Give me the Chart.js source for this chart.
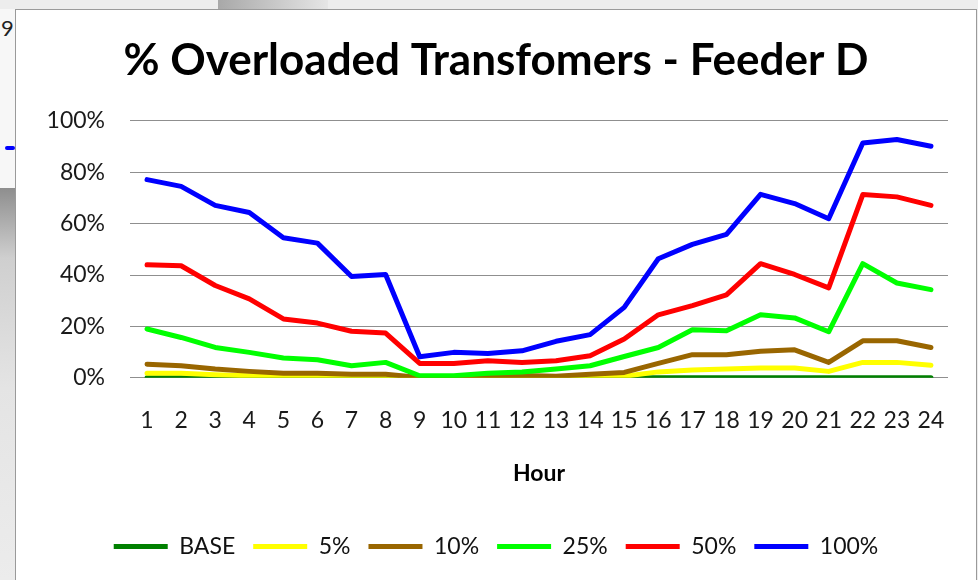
<!DOCTYPE html>
<html>
<head>
<meta charset="utf-8">
<script src="https://cdn.jsdelivr.net/npm/chart.js@4.4.1/dist/chart.umd.min.js"></script>
<style>
  html, body { margin: 0; padding: 0; }
  body { width: 978px; height: 580px; position: relative; overflow: hidden; background: #ededed; font-family: Lato, sans-serif; }
  #topdark { position: absolute; left: 218px; top: 0; width: 110px; height: 9px; background: linear-gradient(to right, #a8a8a8, #e6e6e6); }
  #leftwin { position: absolute; left: 0; top: 9px; width: 15px; height: 179px; background: #f7f7f7; }
  #leftgrad { position: absolute; left: 0; top: 188px; width: 15px; height: 392px; background: linear-gradient(to bottom, #8e8e8e 0px, #cfcfcf 70px, #e4e4e4 200px, #ececec 392px); }
  #nine { position: absolute; left: 1px; top: 14px; font: 22px Lato, sans-serif; color: #222; }
  #dash { position: absolute; left: 5px; top: 146px; width: 10px; height: 4px; background: #0000ff; border-radius: 2px; }
  #box { position: absolute; left: 15px; top: 9px; width: 960px; height: 600px; border: 1px solid #9a9a9a; background: #ffffff; }
  #wrap { position: absolute; left: 16px; top: 10px; width: 960px; height: 570px; }
</style>
</head>
<body>
<div id="topdark"></div>
<div id="leftwin"></div>
<div id="leftgrad"></div>
<div id="nine">9</div>
<div id="dash"></div>
<div id="box"></div>
<div id="wrap"><canvas id="c"></canvas></div>
<script>
const hours = ['1','2','3','4','5','6','7','8','9','10','11','12','13','14','15','16','17','18','19','20','21','22','23','24'];
const yTicks = [0, 20, 40, 60, 80, 100];
const seriesNames = ['BASE', '5%', '10%', '25%', '50%', '100%'];
const seriesColors = ['#008000', '#ffff00', '#996600', '#00ff00', '#ff0000', '#0000ff'];

const baseVals = [0,0,0,0,0,0,0,0,0,0,0,0,0,0,0,0,0,0,0,0,0,0,0,0];
const p5Vals   = [1.8,1.8,1.2,0.8,0.3,0.3,0.3,0.2,0,0,0,0.2,0.3,0.5,0.6,2.3,3.0,3.4,3.8,3.8,2.5,6.0,6.0,4.9];
const p10Vals  = [5.3,4.7,3.4,2.5,1.8,1.8,1.4,1.4,0.1,0,0.5,0.9,0.6,1.4,2.1,5.6,9.0,9.0,10.3,10.9,6.0,14.4,14.4,11.8];
const p25Vals  = [19.0,15.7,11.8,9.9,7.7,7.0,4.7,6.0,0.8,0.8,1.8,2.3,3.4,4.7,8.3,11.8,18.7,18.3,24.5,23.3,17.9,44.4,36.9,34.3];
const p50Vals  = [44.0,43.6,35.9,30.7,22.9,21.3,18.1,17.4,5.6,5.6,6.6,6.0,6.6,8.6,15.1,24.5,28.1,32.3,44.4,40.2,35.0,71.3,70.4,67.1];
const p100Vals = [77.1,74.5,67.1,64.3,54.5,52.4,39.4,40.2,8.2,9.9,9.5,10.5,14.2,16.8,27.4,46.3,51.9,55.8,71.4,67.8,61.9,91.4,92.7,90.1];

const allVals = [baseVals, p5Vals, p10Vals, p25Vals, p50Vals, p100Vals];

const datasets = seriesNames.map((name, i) => ({
  label: name,
  data: allVals[i],
  borderColor: seriesColors[i],
  backgroundColor: seriesColors[i],
  borderWidth: 5,
  borderCapStyle: 'round',
  borderJoinStyle: 'round',
  pointRadius: 0,
  pointHoverRadius: 0,
  tension: 0,
  fill: false,
  order: seriesNames.length - i
}));

new Chart(document.getElementById('c'), {
  type: 'line',
  data: { labels: hours, datasets: datasets },
  options: {
    responsive: true,
    maintainAspectRatio: false,
    animation: false,
    events: [],
    layout: { padding: { left: 0, right: 0, top: 0, bottom: 12 } },
    plugins: {
      title: {
        display: true,
        text: '% Overloaded Transfomers - Feeder D',
        color: '#000000',
        font: { family: 'Lato', size: 44, weight: 'bold', lineHeight: 1.2 },
        padding: { top: 24, bottom: 34 }
      },
      legend: {
        display: true,
        position: 'bottom',
        labels: {
          usePointStyle: true,
          pointStyle: 'line',
          pointStyleWidth: 54,
          boxHeight: 23,
          color: '#111111',
          font: { family: 'Lato', size: 23 },
          padding: 18,
          sort: (a, b) => a.datasetIndex - b.datasetIndex
        }
      },
      tooltip: { enabled: false }
    },
    scales: {
      x: {
        offset: true,
        grid: { display: false },
        border: { display: false },
        ticks: {
          color: '#1a1a1a',
          font: { family: 'Lato', size: 23 },
          padding: 21,
          maxRotation: 0,
          autoSkip: false
        },
        title: {
          display: true,
          text: 'Hour',
          color: '#000000',
          font: { family: 'Lato', size: 23, weight: 'bold', lineHeight: 1.2 },
          padding: { top: 4, bottom: 30 }
        }
      },
      y: {
        min: 0,
        max: 100,
        afterBuildTicks: (scale) => { scale.ticks = yTicks.map(v => ({ value: v })); },
        afterFit: (scale) => { scale.width = 114; },
        grid: { color: '#8f8f8f', lineWidth: 1, drawTicks: false },
        border: { display: false },
        ticks: {
          color: '#1a1a1a',
          font: { family: 'Lato', size: 23 },
          padding: 25,
          callback: (v) => v + '%'
        }
      },
      yRight: {
        position: 'right',
        display: true,
        min: 0,
        max: 100,
        afterFit: (scale) => { scale.width = 28; },
        grid: { drawOnChartArea: false, drawTicks: false, display: false },
        border: { display: false },
        ticks: { display: false }
      }
    }
  }
});
</script>
</body>
</html>
